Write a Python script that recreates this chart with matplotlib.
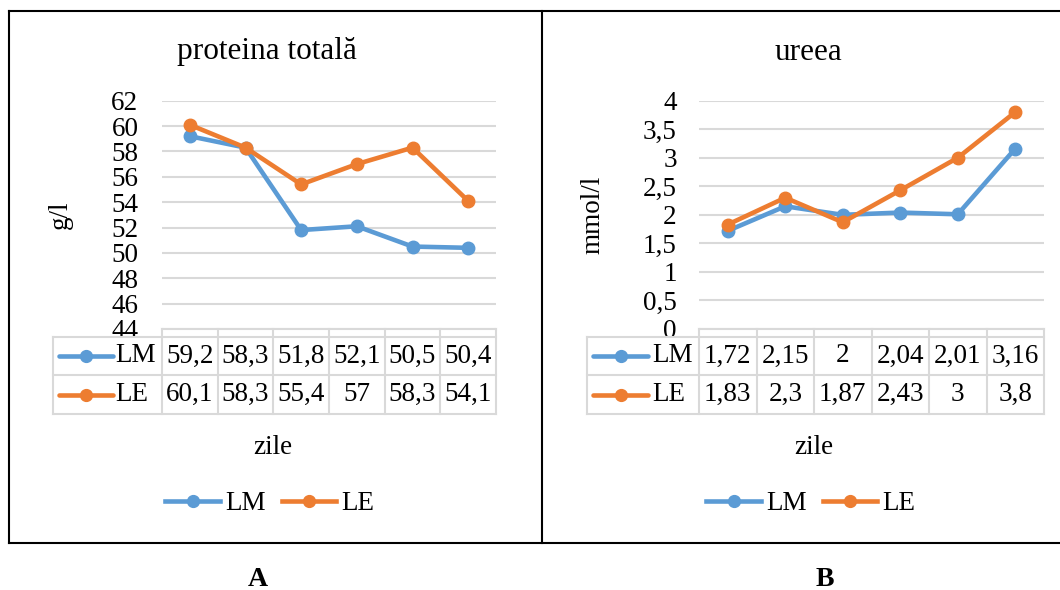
import matplotlib
matplotlib.use('Agg')
import matplotlib.pyplot as plt
from matplotlib.lines import Line2D
import matplotlib.transforms as mtransforms

plt.rcParams['font.family'] = ['Liberation Serif', 'DejaVu Serif']

# ---------------- data ----------------
series_names = ['LM', 'LE']
prot_LM = [59.2, 58.3, 51.8, 52.1, 50.5, 50.4]
prot_LE = [60.1, 58.3, 55.4, 57, 58.3, 54.1]
urea_LM = [1.72, 2.15, 2, 2.04, 2.01, 3.16]
urea_LE = [1.83, 2.3, 1.87, 2.43, 3, 3.8]
prot_ticks = [44, 46, 48, 50, 52, 54, 56, 58, 60, 62]
urea_ticks = [0, 0.5, 1, 1.5, 2, 2.5, 3, 3.5, 4]
titles = ['proteina totală', 'ureea']
ylabels = ['g/l', 'mmol/l']
xlabel = 'zile'
letters = ['A', 'B']

BLUE = '#5B9BD5'
ORANGE = '#ED7D31'
GRID = '#D9D9D9'

W, H = 1060, 590
fig = plt.figure(figsize=(W / 100, H / 100), dpi=100)
pix = mtransforms.Affine2D().scale(1 / W, -1 / H).translate(0, 1) + fig.transFigure


def fmt(v):
    return ('%g' % v).replace('.', ',')


FS = 19.5
Y_TOP, Y_AX = 100.7, 329
ROW_TOP, ROW_MID, ROW_BOT = 337, 375, 414


def panel(ax_l, ax_r, tab_l, title, ylabel, ylabel_x, lm, le, ticks,
          key_x0, key_x1, key_tx, leg_cx, letter, letter_x, title_x, pad):
    ax = fig.add_axes([ax_l / W, 1 - Y_AX / H, (ax_r - ax_l) / W, (Y_AX - Y_TOP) / H])
    n = len(lm)
    x = list(range(n))
    ax.set_xlim(-0.5, n - 0.5)
    ax.set_ylim(ticks[0], ticks[-1])
    ax.set_yticks(ticks)
    ax.set_yticklabels([fmt(t) for t in ticks])
    ax.tick_params(axis='y', length=0, pad=pad, labelsize=FS)
    ax.set_xticks([])
    for s in ax.spines.values():
        s.set_visible(False)
    ax.grid(axis='y', color=GRID, lw=1.5)
    ax.set_axisbelow(True)
    for vals, c in ((lm, BLUE), (le, ORANGE)):
        ax.plot(x, vals, color=c, lw=3.3, marker='o', ms=9, clip_on=False,
                zorder=3, solid_capstyle='round')

    bl = mtransforms.blended_transform_factory(ax.transData, pix)
    tl = dict(color=GRID, lw=1.5, clip_on=False)
    # table horizontal lines
    fig.add_artist(Line2D([ax_l, ax_r], [Y_AX, Y_AX], transform=pix, **tl))
    for yy in (ROW_TOP, ROW_MID, ROW_BOT):
        fig.add_artist(Line2D([tab_l, ax_r], [yy, yy], transform=pix, **tl))
    # vertical lines
    for i in range(n + 1):
        fig.add_artist(Line2D([i - 0.5, i - 0.5], [Y_AX, ROW_BOT], transform=bl, **tl))
    fig.add_artist(Line2D([tab_l, tab_l], [ROW_TOP, ROW_BOT], transform=pix, **tl))

    rows = [(lm, BLUE, series_names[0], (ROW_TOP + ROW_MID) / 2),
            (le, ORANGE, series_names[1], (ROW_MID + ROW_BOT) / 2)]
    for vals, c, name, yc in rows:
        for i, v in enumerate(vals):
            fig.text(i, yc, fmt(v), transform=bl, ha='center', va='center', fontsize=FS)
        fig.add_artist(Line2D([key_x0, key_x1], [yc, yc], transform=pix, color=c,
                              lw=3.3, solid_capstyle='round'))
        fig.add_artist(Line2D([(key_x0 + key_x1) / 2], [yc], transform=pix, color=c,
                              marker='o', ms=8.5, lw=0))
        fig.text(key_tx, yc, name, transform=pix, ha='left', va='center', fontsize=FS)

    fig.text(title_x, 52, title, transform=pix, ha='center', va='center', fontsize=22.5)
    fig.text(ylabel_x, 215, ylabel, transform=pix, ha='center', va='center',
             fontsize=FS, rotation=90)
    fig.text(title_x + 6, 447, xlabel, transform=pix, ha='center', va='center', fontsize=FS)
    handles = [Line2D([], [], color=BLUE, lw=3.3, marker='o', ms=8.5),
               Line2D([], [], color=ORANGE, lw=3.3, marker='o', ms=8.5)]
    fig.legend(handles, series_names, loc='center', bbox_to_anchor=(leg_cx / W, 1 - 504 / H),
               ncol=2, frameon=False, fontsize=FS, handlelength=2.0, handletextpad=0.2,
               columnspacing=0.6, borderaxespad=0)
    fig.text(letter_x, 579, letter, transform=pix, ha='center', va='center',
             fontsize=20, fontweight='bold')


panel(162, 496, 53, titles[0], ylabels[0], 60, prot_LM, prot_LE, prot_ticks,
      59, 113, 115, 270, letters[0], 258, 267, 17)
panel(699, 1044, 587, titles[1], ylabels[1], 593, urea_LM, urea_LE, urea_ticks,
      593, 648, 652, 811, letters[1], 825, 808, 16)

# outer frame
bk = dict(color='black', lw=1.5, transform=pix)
fig.add_artist(Line2D([9, 1060], [11, 11], **bk))
fig.add_artist(Line2D([9, 1060], [543, 543], **bk))
fig.add_artist(Line2D([9, 9], [11, 543], **bk))
fig.add_artist(Line2D([542, 542], [11, 543], **bk))

fig.savefig('out.png', dpi=100)
